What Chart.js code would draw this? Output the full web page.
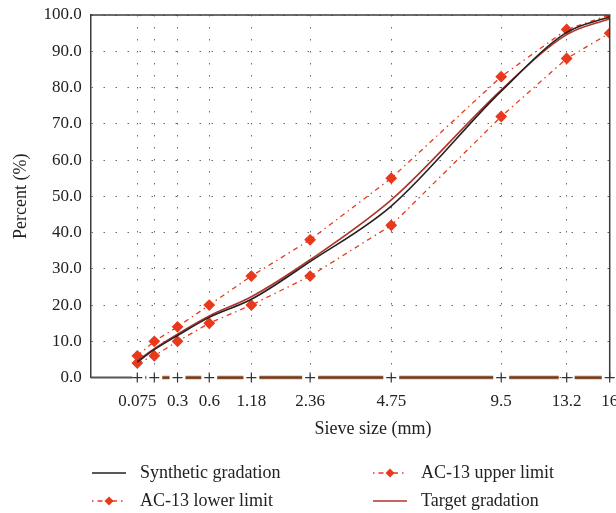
<!DOCTYPE html>
<html>
<head>
<meta charset="utf-8">
<script src="https://cdn.jsdelivr.net/npm/chart.js@4.4.0/dist/chart.umd.min.js"></script>
<style>
  html, body { margin: 0; padding: 0; background: #fff; }
</style>
</head>
<body>
<canvas id="chart" width="616" height="513"></canvas>
<script>
// sieve sizes (mm) and the labels printed under them
const sieveSizes = [0.075, 0.15, 0.3, 0.6, 1.18, 2.36, 4.75, 9.5, 13.2, 16];
const tickLabels = ['0.075', '', '0.3', '0.6', '1.18', '2.36', '4.75', '9.5', '13.2', '16'];

// percent passing
const synthetic = [4.3, 7.7, 11.6, 16.6, 21.6, 32.0, 47.3, 79.0, 95.2, 99.5];
const upperLimit = [6, 10, 14, 20, 28, 38, 55, 83, 96, 100];
const lowerLimit = [4, 6, 10, 15, 20, 28, 42, 72, 88, 95];
const target = [4.6, 8.0, 12.0, 17.0, 22.3, 32.5, 49.0, 79.3, 94.6, 99.0];

const seriesNames = ['Synthetic gradation', 'AC-13 upper limit', 'AC-13 lower limit', 'Target gradation'];
const yTicks = [0, 10, 20, 30, 40, 50, 60, 70, 80, 90, 100];
const xTitle = 'Sieve size (mm)';
const yTitle = 'Percent (%)';

// gradation charts use sieve size to the 0.45 power on the x axis
const POWER = 0.45;
const toX = s => Math.pow(s, POWER);
const pts = vals => vals.map((v, i) => ({x: toX(sieveSizes[i]), y: v}));

const serif = '"Liberation Serif", "DejaVu Serif", serif';
const limitRed = '#e8391d';
const limitDash = [5, 4, 1.5, 4];

const datasets = [
  {label: seriesNames[0], data: pts(synthetic), borderColor: '#222', borderWidth: 1.6,
   pointRadius: 0, cubicInterpolationMode: 'monotone', order: 1},
  {label: seriesNames[1], data: pts(upperLimit), borderColor: limitRed, borderWidth: 1.3,
   borderDash: limitDash, pointStyle: 'rectRot', pointRadius: 5,
   pointBackgroundColor: limitRed, pointBorderColor: limitRed, order: 3},
  {label: seriesNames[2], data: pts(lowerLimit), borderColor: limitRed, borderWidth: 1.3,
   borderDash: limitDash, pointStyle: 'rectRot', pointRadius: 5,
   pointBackgroundColor: limitRed, pointBorderColor: limitRed, order: 4},
  {label: seriesNames[3], data: pts(target), borderColor: '#b0342c', borderWidth: 1.6,
   pointRadius: 0, cubicInterpolationMode: 'monotone', order: 2}
];

// box round the plot, "+" ticks, brown x axis segments and the x title
const framePlugin = {
  id: 'frame',
  afterDraw(chart, args, opts) {
    const {ctx, chartArea: a, scales: {x}} = chart;
    const px = sieveSizes.map(s => x.getPixelForValue(toX(s)));
    ctx.save();
    ctx.strokeStyle = '#3c3c3c';
    ctx.lineWidth = 1.5;
    ctx.beginPath();
    ctx.moveTo(a.left, a.top);
    ctx.lineTo(a.right, a.top);
    ctx.lineTo(a.right, a.bottom);
    ctx.stroke();

    ctx.strokeStyle = '#555';
    ctx.lineWidth = 2;
    ctx.beginPath();
    ctx.moveTo(a.left, a.bottom);
    ctx.lineTo(px[0] - 5, a.bottom);
    ctx.stroke();

    for (let i = 0; i < px.length - 1; i++) {
      const x1 = px[i] + 8, x2 = px[i + 1] - 8;
      if (x2 <= x1) continue;
      ctx.lineWidth = 4.5;
      ctx.strokeStyle = '#f0c4a4';
      ctx.beginPath(); ctx.moveTo(x1, a.bottom); ctx.lineTo(x2, a.bottom); ctx.stroke();
      ctx.lineWidth = 2.5;
      ctx.strokeStyle = '#6e3a1c';
      ctx.beginPath(); ctx.moveTo(x1, a.bottom); ctx.lineTo(x2, a.bottom); ctx.stroke();
    }

    ctx.strokeStyle = '#333';
    ctx.lineWidth = 1.2;
    px.forEach(p => {
      ctx.beginPath();
      ctx.moveTo(p - 5, a.bottom); ctx.lineTo(p + 5, a.bottom);
      ctx.moveTo(p, a.bottom - 5); ctx.lineTo(p, a.bottom + 5);
      ctx.stroke();
    });

    ctx.fillStyle = '#222';
    ctx.font = '18px ' + serif;
    ctx.textAlign = 'center';
    ctx.textBaseline = 'middle';
    ctx.fillText(xTitle, opts.titleX, opts.titleY);
    ctx.restore();
  }
};

// two column legend under the axis title
const legendPlugin = {
  id: 'gradLegend',
  afterDraw(chart, args, opts) {
    const ctx = chart.ctx;
    ctx.save();
    ctx.font = '18px ' + serif;
    ctx.textBaseline = 'middle';
    ctx.fillStyle = '#222';
    chart.data.datasets.forEach((ds, i) => {
      const col = i % 2, row = Math.floor(i / 2);
      const x = opts.cols[col], y = opts.rows[row];
      ctx.save();
      ctx.strokeStyle = ds.borderColor;
      ctx.lineWidth = ds.borderWidth;
      ctx.setLineDash(ds.borderDash ? [1.5, 4, 5, 4] : []);
      ctx.beginPath();
      ctx.moveTo(x, y); ctx.lineTo(x + opts.sample, y);
      ctx.stroke();
      if (ds.pointRadius) {
        ctx.setLineDash([]);
        ctx.fillStyle = ds.pointBackgroundColor;
        const cx = x + opts.sample / 2, r = 4.5;
        ctx.beginPath();
        ctx.moveTo(cx, y - r); ctx.lineTo(cx + r, y); ctx.lineTo(cx, y + r); ctx.lineTo(cx - r, y);
        ctx.closePath();
        ctx.fill();
      }
      ctx.restore();
      ctx.fillText(ds.label, x + opts.sample + 14, y);
    });
    ctx.restore();
  }
};

new Chart(document.getElementById('chart'), {
  type: 'line',
  data: {datasets},
  plugins: [framePlugin, legendPlugin],
  options: {
    responsive: false,
    devicePixelRatio: 1,
    animation: false,
    layout: {padding: {left: 6, right: 0, top: 15, bottom: 87}},
    plugins: {
      legend: {display: false},
      tooltip: {enabled: false},
      frame: {titleX: 373, titleY: 429},
      gradLegend: {cols: [92, 373], rows: [473, 501], sample: 34}
    },
    scales: {
      x: {
        type: 'linear',
        min: 0,
        max: toX(16),
        afterBuildTicks: scale => { scale.ticks = sieveSizes.map(s => ({value: toX(s)})); },
        afterFit: scale => { scale.paddingRight = 6; scale.paddingLeft = 0; },
        ticks: {
          autoSkip: false,
          maxRotation: 0,
          padding: 14,
          color: '#222',
          font: {family: serif, size: 17},
          callback: (v, i) => tickLabels[i]
        },
        grid: {color: '#6a6a6a', lineWidth: 1, drawTicks: false},
        border: {display: false, dash: [1.5, 10.5]}
      },
      y: {
        min: 0,
        max: 100,
        afterBuildTicks: scale => { scale.ticks = yTicks.map(v => ({value: v})); },
        afterFit: scale => { scale.paddingTop = 0; scale.paddingBottom = 0; },
        ticks: {
          padding: 9,
          color: '#222',
          font: {family: serif, size: 17},
          callback: v => v.toFixed(1)
        },
        grid: {color: '#6a6a6a', lineWidth: 1, drawTicks: false},
        border: {display: true, color: '#3c3c3c', width: 1.5, dash: [1.5, 10.5]},
        title: {display: true, text: yTitle, color: '#222',
                font: {family: serif, size: 18}, padding: {top: 4, bottom: 3}}
      }
    }
  }
});
</script>
</body>
</html>
